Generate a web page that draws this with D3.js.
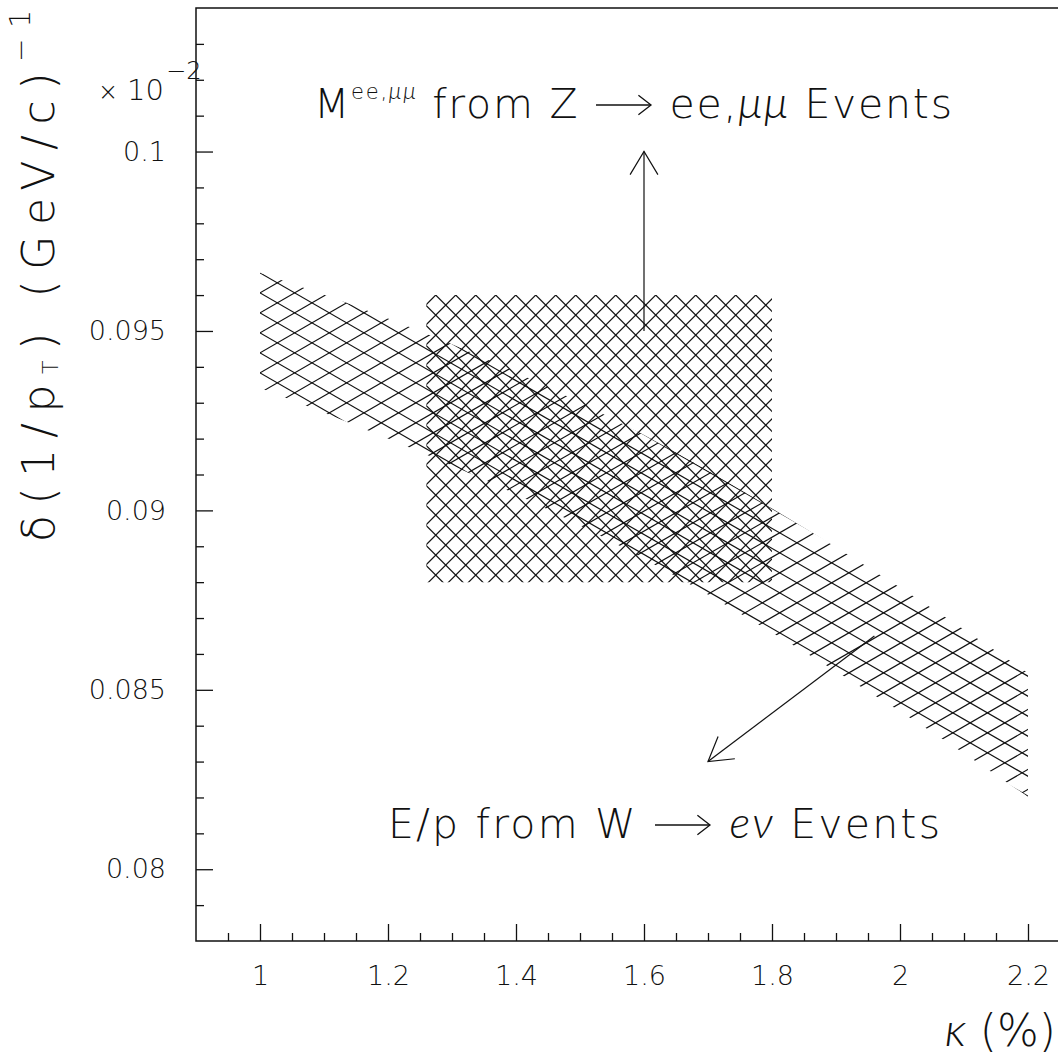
<!DOCTYPE html>
<html><head><meta charset="utf-8">
<script src="https://cdn.jsdelivr.net/npm/d3@7"></script>
<style>body{margin:0;background:#fff} text{font-family:"DejaVu Sans","Liberation Sans",sans-serif;font-weight:200;fill:#111}
.it{font-family:"Lato","Liberation Serif",serif;font-style:italic;font-weight:300}</style>
</head><body><svg id="c" width="1058" height="1057"></svg>
<script>
// ---- data ----
const kappa      = [1.0, 1.2, 1.4, 1.6, 1.8, 2.0, 2.2];
const bandUpper  = [0.09662, 0.09535, 0.09385, 0.09210, 0.09005, 0.08785, 0.08547];
const bandLower  = [0.09341, 0.09200, 0.09045, 0.08865, 0.08660, 0.08440, 0.08202];
const boxKappa   = [1.26, 1.80];
const boxDelta   = [0.088, 0.096];
const arrowZ     = [[1.6, 0.095], [1.6, 0.100]];
const arrowW     = [[1.96, 0.0865], [1.70, 0.0830]];
const xMajor     = [1.0, 1.2, 1.4, 1.6, 1.8, 2.0, 2.2];
const xLabels    = ["1", "1.2", "1.4", "1.6", "1.8", "2", "2.2"];
const yMajor     = [0.080, 0.085, 0.090, 0.095, 0.100];
const yLabels    = ["0.08", "0.085", "0.09", "0.095", "0.1"];
const xDomain    = [0.9, 2.25];
const yDomain    = [0.078, 0.104];

// ---- layout ----
const svg = d3.select("#c");
const L = 196, B = 941, T = 8, R = 1060;
const x = d3.scaleLinear().domain(xDomain).range([L, R]);
const y = d3.scaleLinear().domain(yDomain).range([B, T]);
const ink = "#111";

const defs = svg.append("defs");

// hatch helper: family of parallel lines y = ay + m*(X-ax) + s*k, clipped
function hatch(g, bbox, m, s, ax, ay) {
  const [bx0, by0, bx1, by1] = bbox;
  const c0 = ay + m * (bx0 - ax), c1 = ay + m * (bx1 - ax);
  const lo = Math.min(by0 - c0, by0 - c1), hi = Math.max(by1 - c0, by1 - c1);
  const k0 = Math.floor(lo / s) - 1, k1 = Math.ceil(hi / s) + 1;
  const ks = d3.range(k0, k1 + 1);
  g.selectAll(null).data(ks).join("line")
    .attr("x1", bx0).attr("y1", k => c0 + s * k)
    .attr("x2", bx1).attr("y2", k => c1 + s * k)
    .attr("stroke", ink).attr("stroke-width", 1.2);
}

// ---- W band (E/p) ----
const bandData = kappa.map((k, i) => ({k, u: bandUpper[i], l: bandLower[i]}));
const area = d3.area().x(d => x(d.k)).y0(d => y(d.l)).y1(d => y(d.u)).curve(d3.curveMonotoneX);
defs.append("clipPath").attr("id", "bandClip").append("path").attr("d", area(bandData));
const gBand = svg.append("g").attr("clip-path", "url(#bandClip)");
const bb = [x(kappa[0]) - 2, y(d3.max(bandUpper)) - 2, x(kappa[kappa.length - 1]) + 2, y(d3.min(bandLower)) + 2];
const t30 = Math.tan(Math.PI / 6);
hatch(gBand, bb, t30, 20, x(kappa[0]), y(bandUpper[0]));
hatch(gBand, bb, -t30, 20, x(kappa[0]), y(bandUpper[0]));

// ---- Z box ----
defs.append("clipPath").attr("id", "boxClip").append("rect")
  .attr("x", x(boxKappa[0])).attr("y", y(boxDelta[1]))
  .attr("width", x(boxKappa[1]) - x(boxKappa[0]))
  .attr("height", y(boxDelta[0]) - y(boxDelta[1]));
const gBox = svg.append("g").attr("clip-path", "url(#boxClip)");
const bx = [x(boxKappa[0]) - 2, y(boxDelta[1]) - 2, x(boxKappa[1]) + 2, y(boxDelta[0]) + 2];
hatch(gBox, bx, 1, 20, x(boxKappa[0]) + 9.3, y(boxDelta[1]));
hatch(gBox, bx, -1, 20, x(boxKappa[0]) + 9.3, y(boxDelta[1]));

// ---- arrows ----
function headPath(p0, p1, len, deg) {
  const ang = Math.atan2(p0[1] - p1[1], p0[0] - p1[0]);
  const a = deg * Math.PI / 180;
  const b1 = [p1[0] + len * Math.cos(ang + a), p1[1] + len * Math.sin(ang + a)];
  const b2 = [p1[0] + len * Math.cos(ang - a), p1[1] + len * Math.sin(ang - a)];
  return [b1, p1, b2];
}
function arrow(pts) {
  const p0 = [x(pts[0][0]), y(pts[0][1])], p1 = [x(pts[1][0]), y(pts[1][1])];
  const line = d3.line();
  svg.append("path").attr("d", line([p0, p1])).attr("stroke", ink).attr("fill", "none").attr("stroke-width", 1.2);
  svg.append("path").attr("d", line(headPath(p0, p1, 27, 31))).attr("stroke", ink).attr("fill", "none").attr("stroke-width", 1.2);
}
arrow(arrowZ);
arrow(arrowW);

// ---- axes ----
const yMinor = d3.range(79, 104).map(v => v / 1000).filter(v => !yMajor.some(m => Math.abs(m - v) < 1e-9));
const xMinor = d3.range(19, 45).map(v => v / 20).filter(v => !xMajor.some(m => Math.abs(m - v) < 1e-9));

const gy = svg.append("g").attr("transform", `translate(${L},0)`)
  .call(d3.axisLeft(y).tickValues(yMajor).tickFormat((d, i) => yLabels[i]).tickSizeInner(-17).tickSizeOuter(0).tickPadding(30));
const gy2 = svg.append("g").attr("transform", `translate(${L},0)`)
  .call(d3.axisLeft(y).tickValues(yMinor).tickFormat("").tickSizeInner(-8).tickSizeOuter(0));
const gx = svg.append("g").attr("transform", `translate(0,${B})`)
  .call(d3.axisBottom(x).tickValues(xMajor).tickFormat((d, i) => xLabels[i]).tickSizeInner(-17).tickSizeOuter(0).tickPadding(25));
const gx2 = svg.append("g").attr("transform", `translate(0,${B})`)
  .call(d3.axisBottom(x).tickValues(xMinor).tickFormat("").tickSizeInner(-8).tickSizeOuter(0));
[gy, gy2, gx, gx2].forEach(g => {
  g.select(".domain").remove();
  g.selectAll("line").attr("stroke", ink).attr("stroke-width", 1.3);
  g.selectAll("text").attr("font-size", 27).attr("font-family", '"DejaVu Sans","Liberation Sans",sans-serif').attr("font-weight", 200).attr("fill", "#111");
});

// frame
svg.append("path").attr("d", d3.line()([[R, T], [L, T], [L, B], [R, B]]))
  .attr("fill", "none").attr("stroke", ink).attr("stroke-width", 1.5);

// ---- texts ----
// x 10^-2 multiplier
const mult = svg.append("text").attr("x", 98).attr("y", 100);
mult.append("tspan").attr("font-size", 24).text("×");
mult.append("tspan").attr("font-size", 29).attr("dx", 9).text("10");
mult.append("tspan").attr("font-size", 24).attr("dx", 2).attr("dy", -21).text("−2");

// y title
const yt = svg.append("text").attr("transform", "translate(54,542) rotate(-90)")
  .attr("font-size", 44).attr("textLength", 532).attr("lengthAdjust", "spacing");
yt.append("tspan").text("δ(1/p");
yt.append("tspan").attr("font-size", 22).attr("dy", 4).text("T");
yt.append("tspan").attr("dy", -4).text(") (GeV/c)");
yt.append("tspan").attr("font-size", 28).attr("dy", -24).text("−1");

// x title
const xt = svg.append("text").attr("x", 1056).attr("y", 1046).attr("text-anchor", "end").attr("font-size", 44);
xt.append("tspan").attr("class", "it").attr("font-size", 48).text("κ");
xt.append("tspan").text(" (%)");

// text arrow: invisible placeholder glyph replaced by a drawn thin arrow
function textArrow(tspan, baseline) {
  const bbx = tspan.node().getBBox();
  const yA = baseline - 13;
  const p0 = [bbx.x + 2, yA], p1 = [bbx.x + bbx.width - 2, yA];
  const line = d3.line();
  svg.append("path").attr("d", line([p0, p1])).attr("stroke", ink).attr("fill", "none").attr("stroke-width", 1.3);
  svg.append("path").attr("d", line(headPath(p0, p1, 16, 38))).attr("stroke", ink).attr("fill", "none").attr("stroke-width", 1.3);
}

// Z label
const zt = svg.append("text").attr("x", 314).attr("y", 118).attr("font-size", 41)
  .attr("textLength", 638).attr("lengthAdjust", "spacing");
zt.append("tspan").text("M");
zt.append("tspan").attr("font-size", 21).attr("dy", -19).text("ee,");
zt.append("tspan").attr("class", "it").attr("font-size", 23).text("μμ");
zt.append("tspan").attr("dy", 19).text(" from Z ");
const zArr = zt.append("tspan").attr("fill-opacity", 0).text("⟶");
zt.append("tspan").text(" ee,");
zt.append("tspan").attr("class", "it").attr("font-size", 44).text("μμ");
zt.append("tspan").text(" Events");
textArrow(zArr, 118);

// W label
const wt = svg.append("text").attr("x", 388).attr("y", 838).attr("font-size", 41)
  .attr("textLength", 552).attr("lengthAdjust", "spacing");
wt.append("tspan").text("E/p from W ");
const wArr = wt.append("tspan").attr("fill-opacity", 0).text("⟶");
wt.append("tspan").text(" ");
wt.append("tspan").attr("class", "it").attr("font-size", 44).text("eν");
wt.append("tspan").text(" Events");
textArrow(wArr, 838);
</script></body></html>
